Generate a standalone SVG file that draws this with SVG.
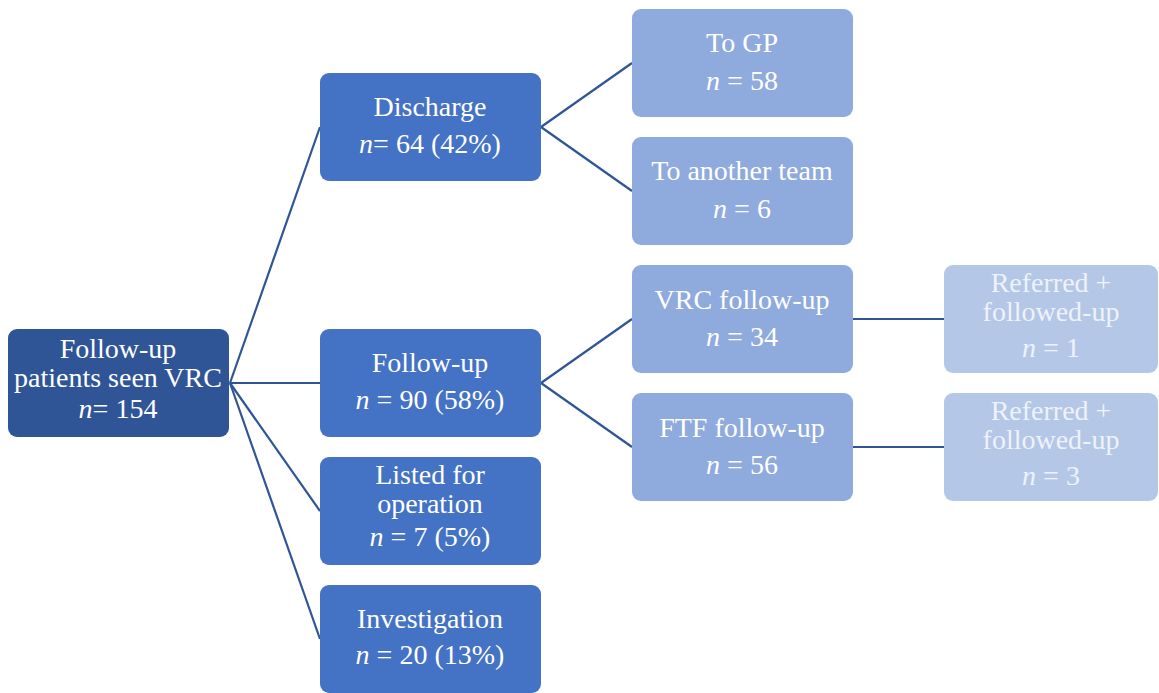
<svg xmlns="http://www.w3.org/2000/svg" width="1159" height="693" viewBox="0 0 1159 693">
  <style>
    .box { stroke: none; }
    .l0 { fill: #2F5597; }
    .l1 { fill: #4472C4; }
    .l2 { fill: #8FAADC; }
    .l3 { fill: #B4C7E7; }
    text { font-family: "Liberation Serif", "Times New Roman", serif; font-size: 28px; fill: #FFFFFF; text-anchor: middle; }
    .pale { fill: #EEF2FA; }
    .it { font-style: italic; }
    .link { stroke: #2F5597; stroke-width: 2.2; fill: none; }
  </style>

  <!-- connectors -->
  <g id="connectors">
    <path class="link" d="M230,383 L320,127"/>
    <path class="link" d="M230,383 L320,383"/>
    <path class="link" d="M230,383 L320,511"/>
    <path class="link" d="M230,383 L320,639"/>
    <path class="link" d="M541,127 L632,63"/>
    <path class="link" d="M541,127 L632,191"/>
    <path class="link" d="M541,383 L632,319"/>
    <path class="link" d="M541,383 L632,447"/>
    <path class="link" d="M852,319 L944,319"/>
    <path class="link" d="M852,447 L944,447"/>
  </g>

  <!-- root -->
  <g id="root">
    <rect class="box l0" x="8" y="329" width="221" height="108" rx="9"/>
    <text x="118" y="358">Follow-up</text>
    <text x="118" y="387">patients seen VRC</text>
    <text x="118" y="418"><tspan class="it">n</tspan>= 154</text>
  </g>

  <!-- first level -->
  <g id="discharge">
    <rect class="box l1" x="320" y="73" width="221" height="108" rx="9"/>
    <text x="430" y="116">Discharge</text>
    <text x="430" y="153"><tspan class="it">n</tspan>= 64 (42%)</text>
  </g>
  <g id="followup">
    <rect class="box l1" x="320" y="329" width="221" height="108" rx="9"/>
    <text x="430" y="372">Follow-up</text>
    <text x="430" y="409"><tspan class="it">n</tspan> = 90 (58%)</text>
  </g>
  <g id="listed">
    <rect class="box l1" x="320" y="457" width="221" height="108" rx="9"/>
    <text x="430" y="484">Listed for</text>
    <text x="430" y="513">operation</text>
    <text x="430" y="546"><tspan class="it">n</tspan> = 7 (5%)</text>
  </g>
  <g id="investigation">
    <rect class="box l1" x="320" y="585" width="221" height="108" rx="9"/>
    <text x="430" y="628">Investigation</text>
    <text x="430" y="664"><tspan class="it">n</tspan> = 20 (13%)</text>
  </g>

  <!-- second level -->
  <g id="to-gp">
    <rect class="box l2" x="632" y="9" width="221" height="108" rx="9"/>
    <text x="742" y="52">To GP</text>
    <text x="742" y="90"><tspan class="it">n</tspan> = 58</text>
  </g>
  <g id="to-team">
    <rect class="box l2" x="632" y="137" width="221" height="108" rx="9"/>
    <text x="742" y="180">To another team</text>
    <text x="742" y="218"><tspan class="it">n</tspan> = 6</text>
  </g>
  <g id="vrc-followup">
    <rect class="box l2" x="632" y="265" width="221" height="108" rx="9"/>
    <text x="742" y="309">VRC follow-up</text>
    <text x="742" y="346"><tspan class="it">n</tspan> = 34</text>
  </g>
  <g id="ftf-followup">
    <rect class="box l2" x="632" y="393" width="221" height="108" rx="9"/>
    <text x="742" y="437">FTF follow-up</text>
    <text x="742" y="474"><tspan class="it">n</tspan> = 56</text>
  </g>

  <!-- third level -->
  <g id="referred-vrc">
    <rect class="box l3" x="944" y="265" width="214" height="108" rx="9"/>
    <text class="pale" x="1051" y="292">Referred +</text>
    <text class="pale" x="1051" y="321">followed-up</text>
    <text class="pale" x="1051" y="357"><tspan class="it">n</tspan> = 1</text>
  </g>
  <g id="referred-ftf">
    <rect class="box l3" x="944" y="393" width="214" height="108" rx="9"/>
    <text class="pale" x="1051" y="420">Referred +</text>
    <text class="pale" x="1051" y="449">followed-up</text>
    <text class="pale" x="1051" y="485"><tspan class="it">n</tspan> = 3</text>
  </g>
</svg>
